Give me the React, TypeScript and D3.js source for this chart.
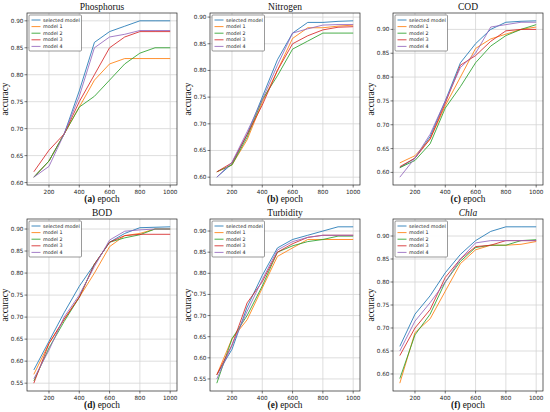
import React from 'react';
import * as d3 from 'd3';

const epochs = [100, 200, 300, 400, 500, 600, 700, 800, 900, 1000];
const seriesNames = ['selected model', 'model 1', 'model 2', 'model 3', 'model 4'];
const seriesColors = ['#1f77b4', '#ff7f0e', '#2ca02c', '#d62728', '#9467bd'];
const xTicks = [200, 400, 600, 800, 1000];

const panelTitles = ['Phosphorus', 'Nitrogen', 'COD', 'BOD', 'Turbidity', 'Chla'];
const panelLetters = ['a', 'b', 'c', 'd', 'e', 'f'];

const phosphorus = [
  [0.61, 0.64, 0.69, 0.77, 0.86, 0.88, 0.89, 0.90, 0.90, 0.90],
  [0.61, 0.64, 0.69, 0.74, 0.79, 0.82, 0.83, 0.83, 0.83, 0.83],
  [0.61, 0.64, 0.69, 0.74, 0.76, 0.79, 0.82, 0.84, 0.85, 0.85],
  [0.62, 0.66, 0.69, 0.75, 0.80, 0.85, 0.87, 0.88, 0.88, 0.88],
  [0.61, 0.63, 0.69, 0.76, 0.85, 0.87, 0.875, 0.882, 0.882, 0.882],
];
const nitrogen = [
  [0.60, 0.625, 0.68, 0.75, 0.82, 0.87, 0.89, 0.89, 0.892, 0.893],
  [0.61, 0.623, 0.67, 0.74, 0.80, 0.86, 0.88, 0.88, 0.883, 0.885],
  [0.61, 0.623, 0.675, 0.745, 0.79, 0.84, 0.855, 0.87, 0.87, 0.87],
  [0.61, 0.627, 0.68, 0.735, 0.80, 0.85, 0.865, 0.876, 0.881, 0.882],
  [0.60, 0.628, 0.685, 0.745, 0.81, 0.87, 0.878, 0.885, 0.886, 0.886],
];
const cod = [
  [0.61, 0.63, 0.675, 0.75, 0.83, 0.87, 0.90, 0.915, 0.917, 0.918],
  [0.62, 0.635, 0.67, 0.74, 0.80, 0.86, 0.88, 0.89, 0.90, 0.905],
  [0.61, 0.625, 0.66, 0.735, 0.78, 0.83, 0.865, 0.887, 0.90, 0.91],
  [0.612, 0.63, 0.67, 0.745, 0.825, 0.845, 0.875, 0.897, 0.90, 0.90],
  [0.59, 0.63, 0.68, 0.75, 0.82, 0.85, 0.905, 0.91, 0.915, 0.915],
];
const bod = [
  [0.58, 0.645, 0.71, 0.77, 0.82, 0.87, 0.89, 0.903, 0.904, 0.905],
  [0.57, 0.64, 0.695, 0.745, 0.80, 0.86, 0.885, 0.89, 0.90, 0.90],
  [0.555, 0.63, 0.69, 0.745, 0.82, 0.87, 0.88, 0.887, 0.90, 0.90],
  [0.55, 0.64, 0.695, 0.745, 0.82, 0.87, 0.885, 0.888, 0.888, 0.888],
  [0.56, 0.625, 0.70, 0.75, 0.815, 0.875, 0.895, 0.898, 0.90, 0.90],
];
const turbidity = [
  [0.56, 0.62, 0.72, 0.795, 0.86, 0.88, 0.89, 0.90, 0.91, 0.91],
  [0.56, 0.645, 0.69, 0.765, 0.84, 0.86, 0.88, 0.88, 0.88, 0.88],
  [0.54, 0.645, 0.70, 0.77, 0.85, 0.865, 0.875, 0.88, 0.888, 0.888],
  [0.56, 0.63, 0.73, 0.78, 0.85, 0.87, 0.885, 0.89, 0.89, 0.89],
  [0.55, 0.63, 0.71, 0.785, 0.855, 0.875, 0.885, 0.89, 0.89, 0.89],
];
const chla = [
  [0.66, 0.73, 0.77, 0.82, 0.86, 0.89, 0.91, 0.92, 0.92, 0.92],
  [0.58, 0.69, 0.72, 0.78, 0.84, 0.87, 0.88, 0.88, 0.882, 0.888],
  [0.59, 0.685, 0.73, 0.80, 0.845, 0.875, 0.88, 0.88, 0.89, 0.892],
  [0.64, 0.70, 0.74, 0.81, 0.85, 0.877, 0.88, 0.89, 0.89, 0.89],
  [0.65, 0.715, 0.755, 0.80, 0.85, 0.885, 0.89, 0.89, 0.89, 0.89],
];
const panelData = [phosphorus, nitrogen, cod, bod, turbidity, chla];

const yTicksA = [0.60, 0.65, 0.70, 0.75, 0.80, 0.85, 0.90];
const yTicksB = [0.55, 0.60, 0.65, 0.70, 0.75, 0.80, 0.85, 0.90];
const panelYTicks = [yTicksA, yTicksA, yTicksA, yTicksB, yTicksB, yTicksA];

const W = 550;
const H = 412;
const colLeft = [27, 210, 393];
const rowTop = [13, 219];
const plotW = 150;
const plotH = 172;
const serif = '"Liberation Serif", "Times New Roman", serif';
const sans = '"DejaVu Sans", sans-serif';

function Panel({ idx }: { idx: number }) {
  const data = panelData[idx];
  const x0 = colLeft[idx % 3];
  const y0 = rowTop[Math.floor(idx / 3)];

  const xScale = d3.scaleLinear().domain([55, 1045]).range([0, plotW]);
  const all = data.flat();
  const [lo, hi] = d3.extent(all) as [number, number];
  const pad = (hi - lo) * 0.05;
  const yScale = d3.scaleLinear().domain([lo - pad, hi + pad]).range([plotH, 0]);

  const line = d3
    .line<number>()
    .x((_, i) => xScale(epochs[i]))
    .y((d) => yScale(d));

  const title = panelTitles[idx];
  const legendRowH = 6.6;

  return (
    <g transform={`translate(${x0},${y0})`}>
      <rect x={0} y={0} width={plotW} height={plotH} fill="#fff" />
      {xTicks.map((t) => (
        <line key={'gx' + t} x1={xScale(t)} x2={xScale(t)} y1={0} y2={plotH} stroke="#d4d4d4" strokeWidth={0.8} />
      ))}
      {panelYTicks[idx].map((t) => (
        <line key={'gy' + t} x1={0} x2={plotW} y1={yScale(t)} y2={yScale(t)} stroke="#d4d4d4" strokeWidth={0.8} />
      ))}
      {data.map((s, i) => (
        <path key={i} d={line(s) || ''} fill="none" stroke={seriesColors[i]} strokeOpacity={0.85} strokeWidth={1} />
      ))}
      <rect x={0} y={0} width={plotW} height={plotH} fill="none" stroke="#222" strokeWidth={0.7} />
      {xTicks.map((t) => (
        <g key={'tx' + t} transform={`translate(${xScale(t)},${plotH})`}>
          <line y1={0} y2={2.5} stroke="#222" strokeWidth={0.6} />
          <text y={8.8} textAnchor="middle" fontSize={5.7} fontFamily={sans} fill="#222">
            {t}
          </text>
        </g>
      ))}
      {panelYTicks[idx].map((t) => (
        <g key={'ty' + t} transform={`translate(0,${yScale(t)})`}>
          <line x1={-2.5} x2={0} stroke="#222" strokeWidth={0.6} />
          <text x={-3.5} dy="0.35em" textAnchor="end" fontSize={5.7} fontFamily={sans} fill="#222">
            {t.toFixed(2)}
          </text>
        </g>
      ))}
      <text
        x={plotW / 2}
        y={-3}
        textAnchor="middle"
        fontSize={9.5}
        fontFamily={serif}
        fontStyle={title === 'Chla' ? 'italic' : 'normal'}
        fill="#111"
      >
        {title}
      </text>
      <text
        transform={`translate(${-19.5},${plotH / 2}) rotate(-90)`}
        textAnchor="middle"
        fontSize={9.3}
        fontFamily={serif}
        fill="#111"
      >
        accuracy
      </text>
      <text x={plotW / 2} y={plotH + 16.5} textAnchor="middle" fontSize={9.3} fontFamily={serif} fill="#111">
        <tspan fontWeight="bold">({panelLetters[idx]})</tspan> epoch
      </text>
      <g transform="translate(2,2)">
        <rect x={0} y={0} width={52.5} height={36} rx={1} fill="#fff" fillOpacity={0.9} stroke="#555" strokeWidth={0.6} />
        {seriesNames.map((n, i) => (
          <g key={n} transform={`translate(0,${5 + i * legendRowH})`}>
            <line x1={2.5} x2={11.5} y1={0} y2={0} stroke={seriesColors[i]} strokeOpacity={0.85} strokeWidth={1} />
            <text x={14} dy="0.35em" fontSize={4.8} fontFamily={sans} fill="#222">
              {n}
            </text>
          </g>
        ))}
      </g>
    </g>
  );
}

export default function App() {
  return (
    <svg width={W} height={H} viewBox={`0 0 ${W} ${H}`} style={{ position: 'absolute', left: 0, top: 0, background: '#fff' }}>
      <rect width={W} height={H} fill="#fff" />
      {panelTitles.map((_, i) => (
        <Panel key={i} idx={i} />
      ))}
    </svg>
  );
}
